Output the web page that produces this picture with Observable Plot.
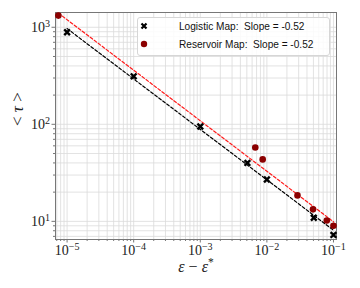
<!DOCTYPE html>
<html><head><meta charset="utf-8">
<script src="https://cdn.jsdelivr.net/npm/d3@7"></script>
<script src="https://cdn.jsdelivr.net/npm/@observablehq/plot@0.6"></script>
<style>
body{margin:0;background:#fff;}
#wrap{position:relative;width:360px;height:288px;overflow:hidden;}
#wrap svg{position:absolute;left:0;top:0;}
.legend{position:absolute;left:137px;top:17px;width:191px;height:37px;border:1px solid #d6d6d6;border-radius:3px;background:rgba(255,255,255,0.85);font-family:"Liberation Sans",sans-serif;font-size:10.1px;color:#111;white-space:pre;}
.legend .row{position:absolute;left:0;height:14px;width:190px;}
.legend .lab{position:absolute;left:41px;top:0;line-height:14px;}
.legend svg{position:absolute;left:14px;top:1px;}
</style></head><body><div id="wrap"></div>
<script>
// Data
const logisticX = [1e-5, 1e-4, 1e-3, 0.0051, 0.01, 0.0506, 0.1];
const logisticY = [888, 312, 95, 40, 27, 10.9, 7.25];
const reservoirX = [7.4e-6, 0.0067, 0.00865, 0.0288, 0.0493, 0.0794, 0.1];
const reservoirY = [1319, 57.6, 43.5, 18.5, 13.3, 10.2, 9.0];
// Fitted power-law lines (end points)
const logisticFitX = [1e-5, 0.1];
const logisticFitY = [970, 8.1];
const reservoirFitX = [7.4e-6, 0.1];
const reservoirFitY = [1400, 9.9];
// Axes
const xMajor = [1e-5, 1e-4, 1e-3, 1e-2, 1e-1];
const yMajor = [10, 100, 1000];
const xDomain = [6.7e-6, 0.111];
const yDomain = [6.5, 1420];
const legendLabels = ["Logistic Map:  Slope = -0.52", "Reservoir Map:  Slope = -0.52"];
const xLabel = "ε − ε*";
const yLabel = "< τ >";

const isDecade = v => Math.abs(Math.log10(v) - Math.round(Math.log10(v))) < 1e-9;
const xAll = d3.scaleLog().domain(xDomain).ticks();
const yAll = d3.scaleLog().domain(yDomain).ticks();
const xMinor = xAll.filter(v => !isDecade(v));
const yMinor = yAll.filter(v => !isDecade(v));
const pts = (xs, ys) => xs.map((x, i) => ({x, y: ys[i]}));
const fmt = d => "10^" + Math.round(Math.log10(d));

const chart = Plot.plot({
  width: 360, height: 288,
  marginLeft: 55, marginRight: 24, marginTop: 12, marginBottom: 49,
  x: {type: "log", domain: xDomain},
  y: {type: "log", domain: yDomain},
  style: {fontFamily: "'Liberation Serif', serif", background: "white", color: "#222"},
  marks: [
    Plot.ruleX(xAll, {stroke: "#dadada", strokeWidth: 0.8}),
    Plot.ruleY(yAll, {stroke: "#dadada", strokeWidth: 0.8}),
    Plot.axisX({ticks: xMinor, tickSize: 2, tickFormat: () => "", stroke: "#777", label: null}),
    Plot.axisY({ticks: yMinor, tickSize: 2, tickFormat: () => "", stroke: "#777", label: null}),
    Plot.axisX({ticks: xMajor, tickSize: 3.5, tickPadding: 2, tickFormat: fmt, fontSize: 14, stroke: "#777", label: null}),
    Plot.axisY({ticks: yMajor, tickSize: 3.5, tickPadding: 2, tickFormat: fmt, fontSize: 14, stroke: "#777", label: null}),
    Plot.frame({stroke: "#777"}),
    Plot.line(pts(logisticFitX, logisticFitY), {x: "x", y: "y", stroke: "black", strokeWidth: 1.2, strokeDasharray: "3,2"}),
    Plot.line(pts(reservoirFitX, reservoirFitY), {x: "x", y: "y", stroke: "#ff1a1a", strokeWidth: 1.2, strokeDasharray: "3,2"}),
    Plot.dot(pts(reservoirX, reservoirY), {x: "x", y: "y", r: 3.3, fill: "#8b0000", stroke: "none"}),
    Plot.dot(pts(logisticX, logisticY), {x: "x", y: "y", r: 2.7, symbol: "times", stroke: "black", strokeWidth: 2.4}),
    Plot.text([xLabel], {frameAnchor: "bottom", dy: 32, fontSize: 16, fill: "#222"}),
    Plot.text([yLabel], {frameAnchor: "left", dx: -38, rotate: -90, fontSize: 17, fill: "#222"})
  ]
});

// superscript tick labels and math-styled axis labels
d3.select(chart).selectAll("text").each(function() {
  const t = d3.select(this);
  const s = this.textContent;
  const m = s.match(/^10\^(-?\d+)$/);
  if (m) {
    t.text("");
    t.append("tspan").text("10");
    t.append("tspan").attr("dy", "-0.45em").attr("font-size", "0.72em").text(m[1].replace("-", "−"));
  } else if (s === yLabel) {
    t.text("");
    t.append("tspan").text("< ");
    t.append("tspan").attr("font-style", "italic").text("τ");
    t.append("tspan").text(" >");
  } else if (s === xLabel) {
    t.text("");
    t.append("tspan").attr("font-style", "italic").text("ε");
    t.append("tspan").text(" − ");
    t.append("tspan").attr("font-style", "italic").text("ε");
    t.append("tspan").attr("dy", "-0.45em").attr("font-size", "0.72em").text("*");
  }
});

const wrap = document.getElementById("wrap");
wrap.appendChild(chart);

// Legend
const legend = document.createElement("div");
legend.className = "legend";
const markers = [
  '<svg width="12" height="12"><path d="M3.5,3.5L8.5,8.5M8.5,3.5L3.5,8.5" stroke="black" stroke-width="2.2"/></svg>',
  '<svg width="12" height="12"><circle cx="6" cy="6" r="3.2" fill="#8b0000"/></svg>'
];
legendLabels.forEach((lab, i) => {
  const row = document.createElement("div");
  row.className = "row";
  row.style.top = (2 + i * 17.5) + "px";
  row.innerHTML = markers[i] + '<span class="lab"></span>';
  row.querySelector(".lab").textContent = lab;
  legend.appendChild(row);
});
wrap.appendChild(legend);
</script>
</body></html>
